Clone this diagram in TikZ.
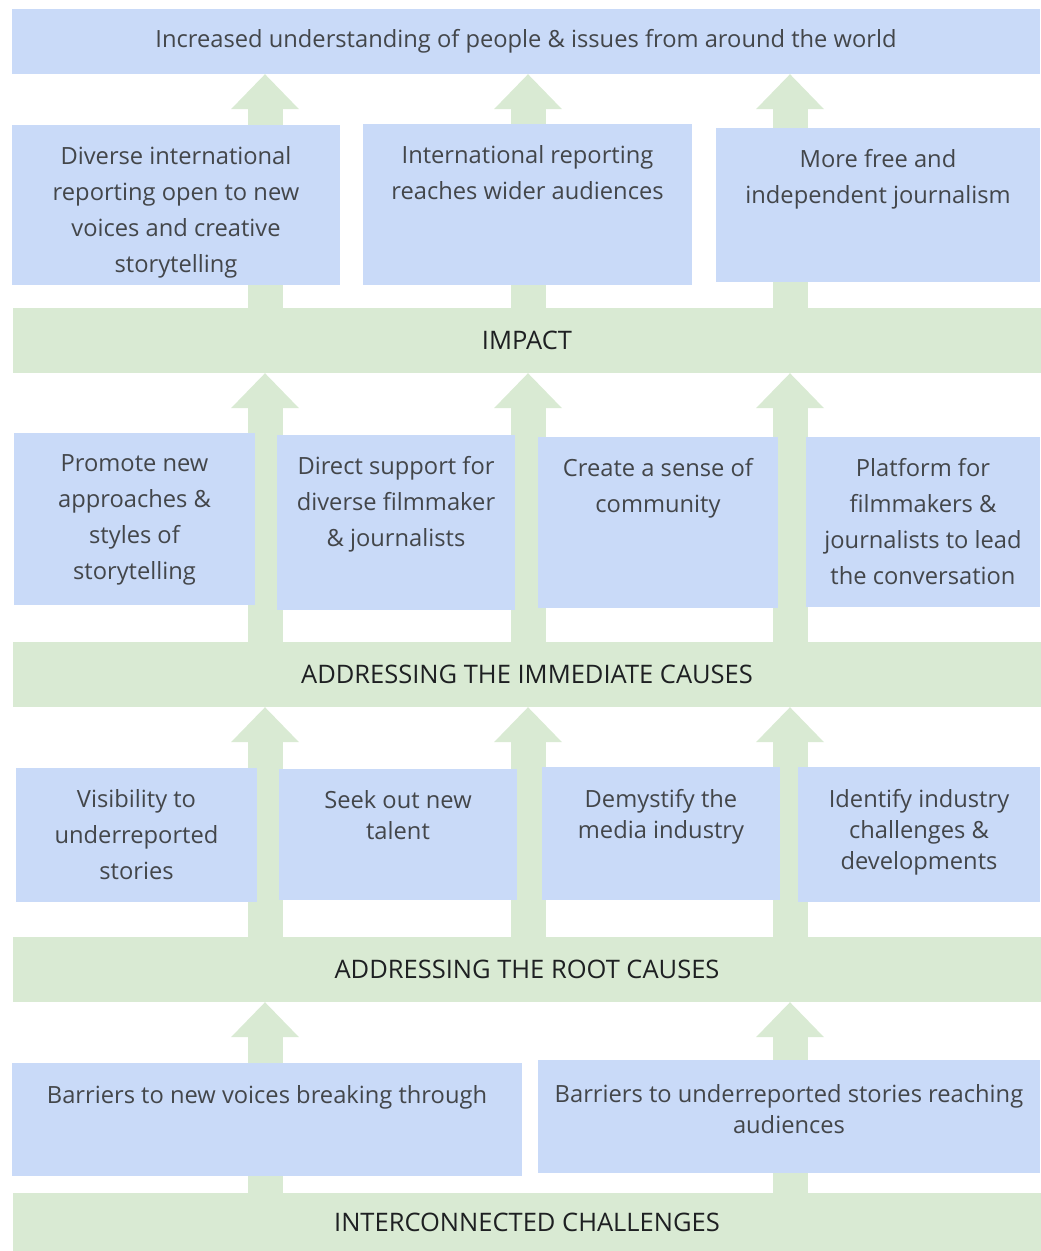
\documentclass[tikz,border=0pt]{standalone}
\usepackage{fontspec}
\setmainfont{Open Sans}
\usetikzlibrary{positioning,arrows.meta,backgrounds}

\definecolor{cellblue}{RGB}{201,218,248}
\definecolor{bandgreen}{RGB}{217,234,211}
\definecolor{inkgrey}{RGB}{67,70,74}
\definecolor{inkdark}{RGB}{30,32,34}

\tikzset{
  band/.style={fill=bandgreen, inner sep=0pt, minimum width=1028pt, minimum height=65pt,
    text=inkdark, font=\fontsize{25.5}{30}\selectfont},
  cell/.style={fill=cellblue, inner sep=0pt},
  celltext/.style={align=center, inner sep=0pt, text=inkgrey, font=\fontsize{23.7}{36}\selectfont},
  tight/.style={font=\fontsize{23.7}{31}\selectfont},
  flow/.style={draw=bandgreen, line width=35pt,
    -{Triangle[width=68pt, length=35pt, line width=0pt 0 0]}},
}

\begin{document}
\begin{tikzpicture}[x=1pt,y=-1pt]
\useasboundingbox (0,0) rectangle (1041,1251);

% lanes the arrows run up
\coordinate (lane1) at (265,0);
\coordinate (lane2) at (528,0);
\coordinate (lane3) at (790,0);

% goal on top
\node[cell, celltext, minimum width=1028pt, minimum height=65pt] (goal) at (526,41.5)
  {Increased understanding of people \& issues from around the world};

% the four bands
\node[band] (impact) at (527,340.5) {IMPACT};
\node[band] (immediate) at (527,674.5) {ADDRESSING THE IMMEDIATE CAUSES};
\node[band] (root) at (527,969.5) {ADDRESSING THE ROOT CAUSES};
\node[band, minimum height=58pt] (challenges) at (527,1222) {INTERCONNECTED CHALLENGES};

% impact row
\node[cell, minimum width=328pt, minimum height=160pt] (diverse) at (176,205) {};
\node[cell, minimum width=329pt, minimum height=161pt] (reach) at (527.5,204.5) {};
\node[cell, minimum width=324pt, minimum height=154pt] (free) at (878,205) {};
\node[celltext, below=21pt of diverse.north] (diverse-t)
  {Diverse international\\reporting open to new\\voices and creative\\storytelling};
\node[celltext, below=21pt of reach.north] (reach-t)
  {International reporting\\reaches wider audiences};
\node[celltext, below=21pt of free.north] (free-t)
  {More free and\\independent journalism};

% immediate causes row
\node[cell, minimum width=241pt, minimum height=172pt] (promote) at (134.5,519) {};
\node[cell, minimum width=238pt, minimum height=175pt] (support) at (396,522.5) {};
\node[cell, minimum width=240pt, minimum height=171pt] (community) at (658,522.5) {};
\node[cell, minimum width=234pt, minimum height=170pt] (platform) at (923,522) {};
\node[celltext, below=22pt of promote.north] (promote-t)
  {Promote new\\approaches \&\\styles of\\storytelling};
\node[celltext, below=21pt of support.north] (support-t)
  {Direct support for\\diverse filmmaker\\\& journalists};
\node[celltext, below=21pt of community.north] (community-t)
  {Create a sense of\\community};
\node[celltext, below=21pt of platform.north] (platform-t)
  {Platform for\\filmmakers \&\\journalists to lead\\the conversation};

% root causes row
\node[cell, minimum width=241pt, minimum height=134pt] (visible) at (136.5,835) {};
\node[cell, minimum width=238pt, minimum height=131pt] (talent) at (398,834.5) {};
\node[cell, minimum width=238pt, minimum height=133pt] (demystify) at (661,833.5) {};
\node[cell, minimum width=242pt, minimum height=135pt] (identify) at (919,834.5) {};
\node[celltext, below=21pt of visible.north] (visible-t)
  {Visibility to\\underreported\\stories};
\node[celltext, tight, below=21pt of talent.north] (talent-t)
  {Seek out new\\talent};
\node[celltext, tight, below=22pt of demystify.north] (demystify-t)
  {Demystify the\\media industry};
\node[celltext, tight, below=22pt of identify.north] (identify-t)
  {Identify industry\\challenges \&\\developments};

% challenges row
\node[cell, minimum width=510pt, minimum height=113pt] (voices) at (267,1119.5) {};
\node[cell, minimum width=502pt, minimum height=113pt] (stories) at (789,1116.5) {};
\node[celltext, below=22pt of voices.north] (voices-t)
  {Barriers to new voices breaking through};
\node[celltext, tight, below=24pt of stories.north] (stories-t)
  {Barriers to underreported stories reaching\\audiences};

% arrows behind the cells
\begin{pgfonlayer}{background}
  \foreach \lane in {lane1,lane2,lane3} {
    \draw[flow] (impact.north -| \lane) -- (goal.south -| \lane);
    \draw[flow] (immediate.north -| \lane) -- (impact.south -| \lane);
    \draw[flow] (root.north -| \lane) -- (immediate.south -| \lane);
  }
  \foreach \lane in {lane1,lane3}
    \draw[flow] (challenges.north -| \lane) -- (root.south -| \lane);
\end{pgfonlayer}
\end{tikzpicture}
\end{document}
